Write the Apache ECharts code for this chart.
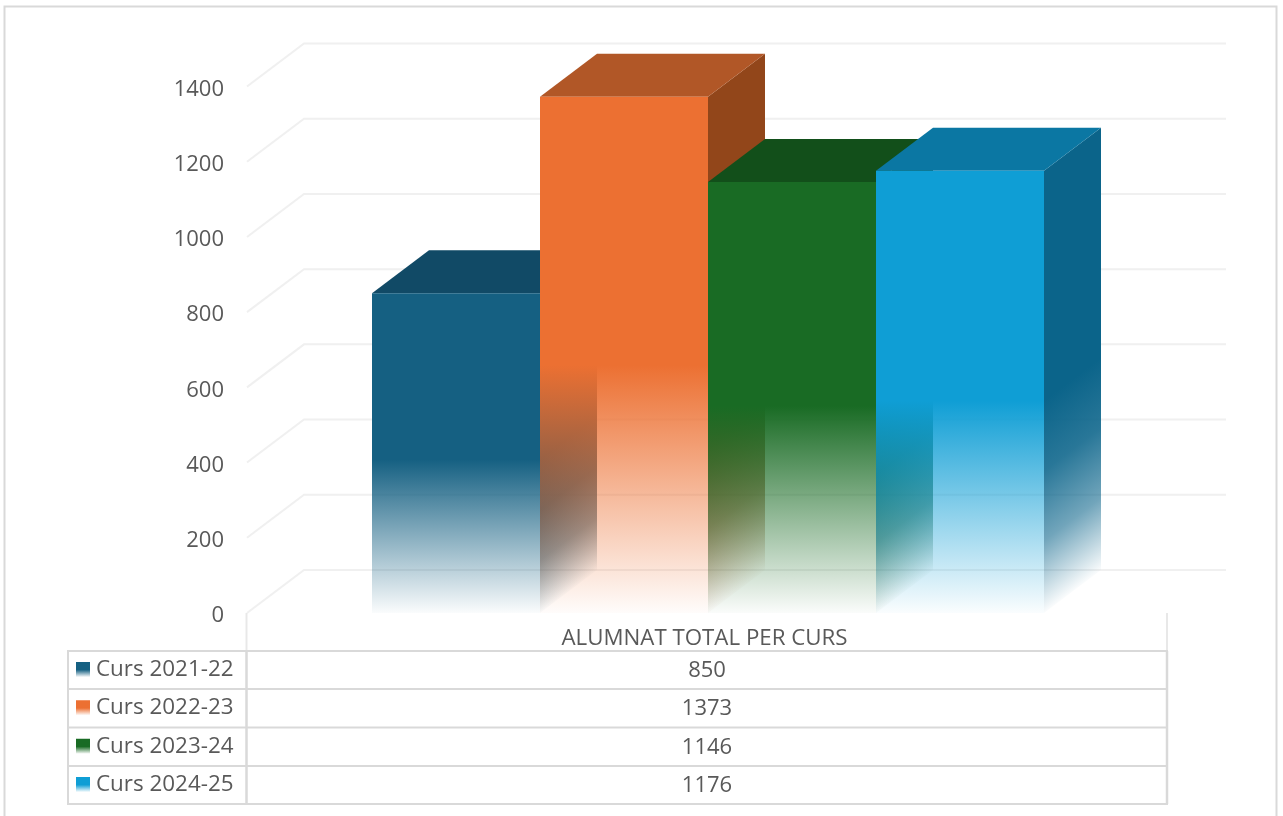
<!DOCTYPE html>
<html><head><meta charset="utf-8">
<style>html,body{margin:0;padding:0;background:#fff}#c{width:1283px;height:816px}</style>
<script src="https://cdn.jsdelivr.net/npm/echarts@6/dist/echarts.min.js"></script>
</head><body><div id="c"></div>
<script>
const categories = ['ALUMNAT TOTAL PER CURS'];
const seriesNames = ['Curs 2021-22', 'Curs 2022-23', 'Curs 2023-24', 'Curs 2024-25'];
const seriesValues = [850, 1373, 1146, 1176];
const yTicks = [0, 200, 400, 600, 800, 1000, 1200, 1400];
const frontColors = [[21,96,130],[236,112,50],[25,107,36],[15,158,213]];
const topColors = ['#114A66','#B15727','#124F1A','#0B77A3'];
const sideColors = [[14,72,98],[146,70,26],[17,78,27],[11,100,138]];

const FONT = '"Open Sans"';
const TXT = '#595959', LINE = '#D9D9D9', GRID = '#F0F0F0';
const DX = 57, DY = -43;
const BAR_SHARE = 168 / 920;
const BAR_SHIFT = 1;
const rgba = (c, a) => `rgba(${c[0]},${c[1]},${c[2]},${a})`;
const fade = c => [
  {offset: 0, color: rgba(c, 1)},
  {offset: 0.52, color: rgba(c, 1)},
  {offset: 1, color: rgba(c, 0.02)}
];
const fadeSide = c => [
  {offset: 0, color: rgba(c, 1)},
  {offset: 0.33, color: rgba(c, 0.88)},
  {offset: 0.66, color: rgba(c, 0.58)},
  {offset: 1, color: rgba(c, 0.02)}
];

function wallItem(params, api) {
  const p = api.coord([0, api.value(0)]);
  const band = api.size([1, 0])[0];
  const x0 = p[0] - band / 2, x1 = p[0] + band / 2 + 2;
  return {type: 'polyline', silent: true,
    shape: {points: [[x0, p[1]], [x0 + DX, p[1] + DY], [x1 + DX, p[1] + DY]]},
    style: {stroke: GRID, lineWidth: 2, fill: null}};
}

function barRenderer(i) {
  return function (params, api) {
    const top = api.coord([api.value(0), api.value(1)]);
    const base = api.coord([api.value(0), 0]);
    const w = api.size([1, 0])[0] * BAR_SHARE;
    const l = top[0] + BAR_SHIFT + (i - seriesValues.length / 2) * w, r = l + w;
    const t = top[1], b = base[1];
    const mid = t + (b - t) * 0.52;
    const len = Math.hypot(DX, DY);
    const nx = -DY / len, ny = DX / len;
    const d = (b - mid) * ny;
    return {type: 'group', silent: true, children: [
      {type: 'polygon',
       shape: {points: [[r, t], [r + DX, t + DY], [r + DX, b + DY], [r, b]]},
       style: {fill: {type: 'linear', global: true, x: r, y: mid, x2: r + nx * d, y2: mid + ny * d,
                      colorStops: fadeSide(sideColors[i])}}},
      {type: 'polygon',
       shape: {points: [[l, t], [l + DX, t + DY], [r + DX, t + DY], [r, t]]},
       style: {fill: topColors[i]}},
      {type: 'rect', shape: {x: l, y: t, width: w, height: b - t},
       style: {fill: {type: 'linear', x: 0, y: 0, x2: 0, y2: 1, colorStops: fade(frontColors[i])}}}
    ]};
  };
}

const hline = (x1, x2, y, c, lw) => ({type: 'line', silent: true, z: 5,
  shape: {x1, y1: y, x2, y2: y}, style: {stroke: c || LINE, lineWidth: lw || 2}});
const vline = (x, y1, y2, c, lw) => ({type: 'line', silent: true, z: 5,
  shape: {x1: x, y1, x2: x, y2}, style: {stroke: c || LINE, lineWidth: lw || 2}});

const rowY = [651, 689, 727.5, 766, 804];
const tableLeft = 68, colX = 246.5, tableRight = 1167;
const graphics = [
  {type: 'polyline', silent: true, shape: {points: [[4.5, 816], [4.5, 6.5], [1276.5, 6.5], [1276.5, 816]]},
   style: {stroke: LINE, lineWidth: 2, fill: null}},
  vline(colX, 613, 651, '#E8E8E8'), vline(tableRight, 613, 651, '#E8E8E8'),
  vline(tableLeft, 651, 804), vline(colX, 651, 804, LINE, 2.5), vline(tableRight, 651, 804, LINE, 2.5)
];
rowY.forEach(y => graphics.push(hline(tableLeft - 1, tableRight + 1, y)));
seriesNames.forEach((name, i) => {
  const cy = (rowY[i] + rowY[i + 1]) / 2;
  graphics.push({type: 'rect', silent: true, z: 6, shape: {x: 76, y: cy - 8, width: 14, height: 15},
    style: {fill: {type: 'linear', x: 0, y: 0, x2: 0, y2: 1, colorStops: fade(frontColors[i])}}});
  graphics.push({type: 'text', silent: true, z: 6, x: 96, y: cy - 0.5,
    style: {text: name, fill: TXT, font: `22.4px ${FONT}`, textAlign: 'left', textVerticalAlign: 'middle'}});
  graphics.push({type: 'text', silent: true, z: 6, x: 707, y: cy + 0.5,
    style: {text: String(seriesValues[i]), fill: TXT, font: `22px ${FONT}`, textAlign: 'center', textVerticalAlign: 'middle'}});
});

const series = [{
  name: 'grid', type: 'custom', coordinateSystem: 'cartesian2d', clip: false, silent: true,
  data: yTicks.map(v => [v]), encode: {y: 0}, renderItem: wallItem, z: 1
}];
seriesNames.forEach((name, i) => series.push({
  name, type: 'custom', coordinateSystem: 'cartesian2d', clip: false, silent: true, z: 2,
  data: [[0, seriesValues[i]]], encode: {x: 0, y: 1}, renderItem: barRenderer(i)
}));

const chart = echarts.init(document.getElementById('c'), null, {renderer: 'canvas'});
chart.setOption({
  animation: false, backgroundColor: '#fff',
  textStyle: {fontFamily: 'Open Sans'},
  grid: {left: 247, right: 116, top: 86.5, bottom: 203, containLabel: false},
  xAxis: {type: 'category', data: categories, boundaryGap: true,
    axisLine: {show: false}, axisTick: {show: false}, splitLine: {show: false},
    axisLabel: {color: TXT, fontFamily: 'Open Sans', fontSize: 22.3, margin: 15, padding: [0, 5, 0, 0]}},
  yAxis: {type: 'value', min: 0, max: 1400, interval: 200,
    axisLine: {show: false}, axisTick: {show: false}, splitLine: {show: false},
    axisLabel: {color: TXT, fontFamily: 'Open Sans', fontSize: 22, margin: 23, verticalAlign: 'top', lineHeight: 6, formatter: v => String(v)}},
  series, graphic: graphics
});
</script></body></html>
